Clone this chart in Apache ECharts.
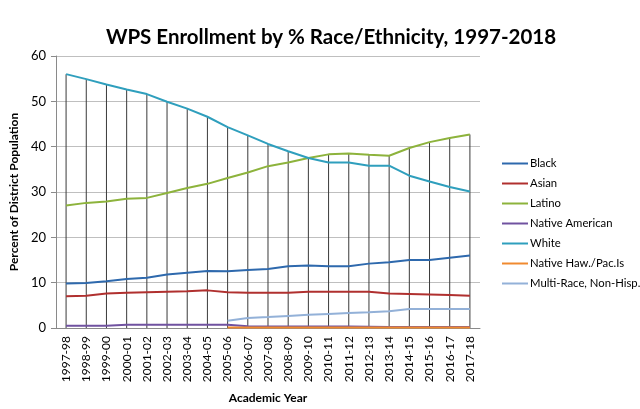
<!DOCTYPE html>
<html>
<head>
<meta charset="utf-8">
<script src="https://cdn.jsdelivr.net/npm/echarts@6/dist/echarts.min.js"></script>
<style>
  html, body { margin: 0; padding: 0; background: #fff; }
  #chart { width: 640px; height: 409px; }
</style>
</head>
<body>
<div id="chart"></div>
<script>
var years = ['1997-98', '1998-99', '1999-00', '2000-01', '2001-02', '2002-03', '2003-04',
    '2004-05', '2005-06', '2006-07', '2007-08', '2008-09', '2009-10', '2010-11', '2011-12',
    '2012-13', '2013-14', '2014-15', '2015-16', '2016-17', '2017-18'];

var black = [9.8, 9.9, 10.3, 10.8, 11.1, 11.8, 12.2, 12.6, 12.5, 12.8, 13.0, 13.6, 13.8, 13.6, 13.6,
    14.2, 14.5, 15.0, 15.0, 15.5, 16.0];
var asian = [7.0, 7.1, 7.6, 7.8, 7.9, 8.0, 8.1, 8.3, 7.9, 7.8, 7.8, 7.8, 8.0, 8.0, 8.0,
    8.0, 7.6, 7.5, 7.4, 7.3, 7.1];
var latino = [27.0, 27.6, 27.9, 28.5, 28.7, 29.8, 30.9, 31.8, 33.1, 34.3, 35.7, 36.5, 37.5, 38.3, 38.5,
    38.2, 38.0, 39.7, 41.0, 41.9, 42.7];
var nativeAm = [0.5, 0.5, 0.5, 0.7, 0.7, 0.7, 0.7, 0.7, 0.7, 0.4, 0.35, 0.35, 0.35, 0.35, 0.35,
    0.3, 0.2, 0.2, 0.2, 0.2, 0.2];
var white = [56.0, 54.9, 53.7, 52.6, 51.6, 49.9, 48.4, 46.6, 44.3, 42.5, 40.6, 39.0, 37.5, 36.5, 36.5,
    35.8, 35.8, 33.6, 32.3, 31.1, 30.1];
var nativeHaw = [null, null, null, null, null, null, null, null, 0.1, 0.1, 0.1, 0.1, 0.1, 0.1, 0.1,
    0.1, 0.1, 0.1, 0.1, 0.1, 0.1];
var multiRace = [null, null, null, null, null, null, null, null, 1.6, 2.2, 2.4, 2.65, 2.9, 3.1, 3.3,
    3.45, 3.7, 4.2, 4.2, 4.2, 4.2];

var yTicks = [0, 10, 20, 30, 40, 50, 60];

var names = ['Black', 'Asian', 'Latino', 'Native American', 'White', 'Native Haw./Pac.Is', 'Multi-Race, Non-Hisp.'];
var colors = ['#2e69ad', '#b0302f', '#8db33c', '#7052a0', '#2f9fbd', '#f08a30', '#93b1d8'];
var allData = [black, asian, latino, nativeAm, white, nativeHaw, multiRace];

// drop lines: highest value at each year
var dropTop = years.map(function (y, i) {
    var m = 0;
    allData.forEach(function (d) { if (d[i] != null && d[i] > m) m = d[i]; });
    return m;
});

var font = 'Lato, "Open Sans", sans-serif';

var series = [{
    type: 'bar',
    data: dropTop,
    barWidth: 1,
    silent: true,
    z: 1,
    itemStyle: { color: '#3a3a3a' }
}];
names.forEach(function (n, k) {
    series.push({
        name: n,
        type: 'line',
        data: allData[k],
        symbol: 'none',
        z: 3,
        lineStyle: { width: 2, color: colors[k] },
        itemStyle: { color: colors[k] }
    });
});

var chart = echarts.init(document.getElementById('chart'));
chart.setOption({
    animation: false,
    title: {
        text: 'WPS Enrollment by % Race/Ethnicity, 1997-2018',
        left: 326,
        top: 22,
        textAlign: 'center',
        textStyle: { fontFamily: font, fontSize: 20.5, fontWeight: 'bold', color: '#000' }
    },
    legend: {
        data: names,
        orient: 'vertical',
        left: 497,
        top: 153,
        itemGap: 9,
        itemWidth: 26,
        itemHeight: 14,
        icon: 'path://M0,6 L26,6 L26,8 L0,8 Z',
        textStyle: { fontFamily: font, fontSize: 11.3, color: '#000', padding: [0, 0, 0, -3] }
    },
    grid: { left: 55, right: 160, top: 56, bottom: 80, containLabel: false },
    xAxis: {
        type: 'category',
        data: years,
        name: 'Academic Year',
        nameLocation: 'middle',
        nameGap: 64,
        nameTextStyle: { fontFamily: font, fontSize: 12, fontWeight: 'bold', color: '#000' },
        axisLine: { lineStyle: { color: '#8a8a8a' } },
        axisTick: { show: false },
        axisLabel: { rotate: 90, fontFamily: font, fontSize: 12, color: '#000', margin: 8 }
    },
    yAxis: {
        type: 'value',
        min: yTicks[0],
        max: yTicks[yTicks.length - 1],
        interval: 10,
        name: 'Percent of District Population',
        nameLocation: 'middle',
        nameGap: 27,
        nameTextStyle: { fontFamily: font, fontSize: 12, fontWeight: 'bold', color: '#000' },
        axisLine: { show: true, lineStyle: { color: '#8a8a8a' } },
        axisTick: { show: true, length: 5, lineStyle: { color: '#8a8a8a' } },
        splitLine: { lineStyle: { color: '#bfbfbf' } },
        axisLabel: { fontFamily: font, fontSize: 13, color: '#000', margin: 10 }
    },
    series: series
});
</script>
</body>
</html>
